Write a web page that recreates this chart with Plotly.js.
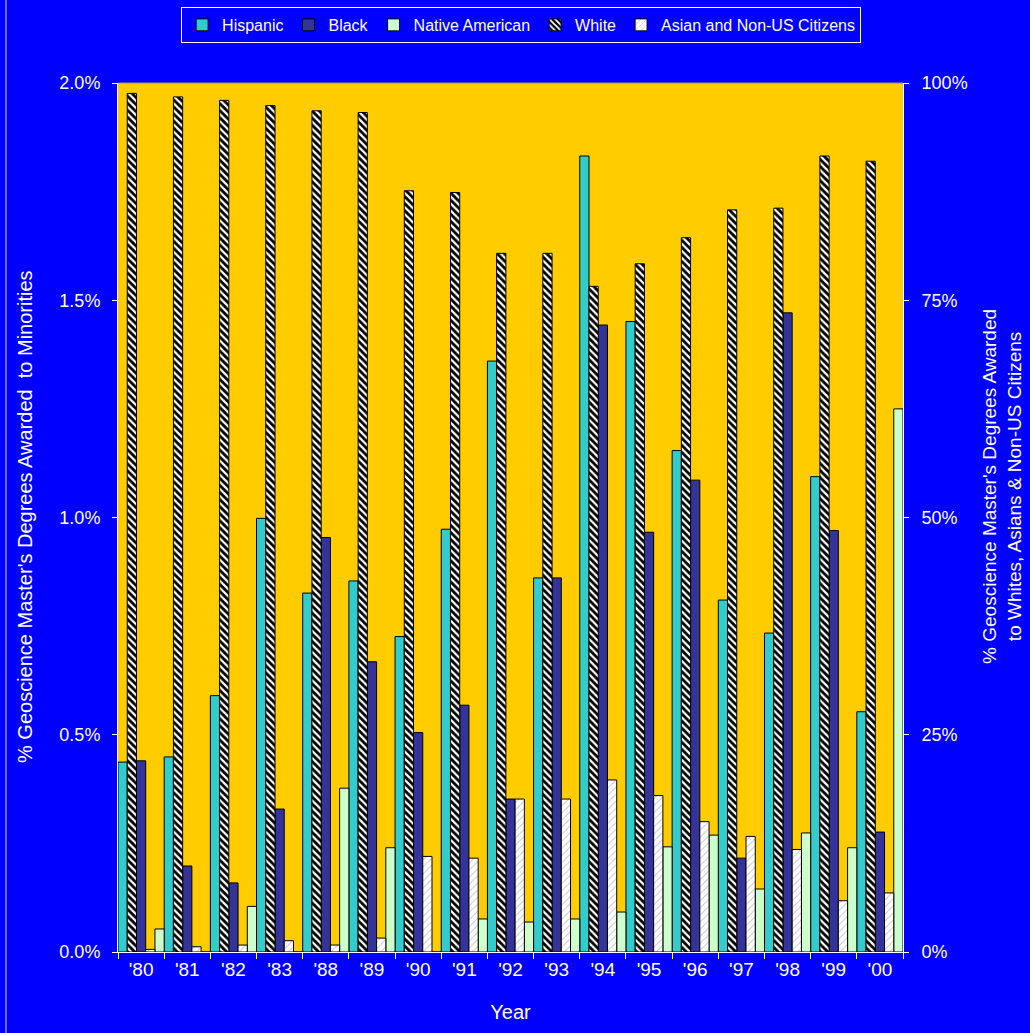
<!DOCTYPE html>
<html>
<head>
<meta charset="utf-8">
<script src="https://cdn.plot.ly/plotly-3.0.1.min.js"></script>
<style>
  html, body { margin: 0; padding: 0; background: #0000FF; }
  #chart { width: 1030px; height: 1033px; }
</style>
</head>
<body>
<div id="chart"></div>
<script>
// Category labels (years)
const years = ["'80", "'81", "'82", "'83", "'88", "'89", "'90", "'91", "'92", "'93", "'94", "'95", "'96", "'97", "'98", "'99", "'00"];

// Left axis (% of degrees awarded to minorities)
const hispanic = [0.437, 0.449, 0.59, 0.998, 0.826, 0.854, 0.726, 0.973, 1.36, 0.861, 1.832, 1.451, 1.154, 0.81, 0.734, 1.094, 0.553];
const black = [0.44, 0.198, 0.159, 0.329, 0.954, 0.668, 0.505, 0.568, 0.352, 0.861, 1.443, 0.966, 1.086, 0.216, 1.471, 0.970, 0.276];
const nativeAmerican = [0.053, 0, 0.105, 0, 0.377, 0.24, 0, 0.076, 0.069, 0.076, 0.092, 0.242, 0.269, 0.145, 0.274, 0.24, 1.25];

// Right axis (% of degrees awarded to Whites, Asians & Non-US Citizens)
const white = [98.8, 98.4, 98.0, 97.4, 96.8, 96.6, 87.6, 87.4, 80.4, 80.4, 76.6, 79.2, 82.2, 85.4, 85.6, 91.6, 91.0];
const asianNonUS = [0.3, 0.6, 0.8, 1.3, 0.8, 1.6, 11.0, 10.8, 17.6, 17.6, 19.8, 18.0, 15.0, 13.3, 11.8, 5.9, 6.8];

// Axis titles
const leftTitle = "% Geoscience Master's Degrees Awarded\u00A0\u00A0to Minorities";
const rightTitle = "% Geoscience Master's Degrees Awarded<br>to Whites, Asians & Non-US Citizens";

const outline = { color: '#000000', width: 1 };

const traces = [
  { type: 'bar', name: 'Hispanic', x: years, y: hispanic, yaxis: 'y',
    offsetgroup: '1', alignmentgroup: 'g', legendrank: 1,
    marker: { color: '#33CCCC', line: outline } },
  { type: 'bar', name: 'White', x: years, y: white, yaxis: 'y2',
    offsetgroup: '2', alignmentgroup: 'g', legendrank: 4,
    marker: { color: '#000000', line: outline,
      pattern: { shape: '\\', fgcolor: '#FFFFFF', bgcolor: '#000000', size: 5, solidity: 0.45 } } },
  { type: 'bar', name: 'Black', x: years, y: black, yaxis: 'y',
    offsetgroup: '3', alignmentgroup: 'g', legendrank: 2,
    marker: { color: '#333399', line: outline } },
  { type: 'bar', name: 'Asian and Non-US Citizens', x: years, y: asianNonUS, yaxis: 'y2',
    offsetgroup: '4', alignmentgroup: 'g', legendrank: 5,
    marker: { color: '#FFFFFF', line: outline,
      pattern: { shape: '/', fgcolor: '#C8C8C8', bgcolor: '#FFFFFF', size: 5, solidity: 0.2 } } },
  { type: 'bar', name: 'Native American', x: years, y: nativeAmerican, yaxis: 'y',
    offsetgroup: '5', alignmentgroup: 'g', legendrank: 3,
    marker: { color: '#CCFFCC', line: outline } }
];

const layout = {
  width: 1030, height: 1033,
  paper_bgcolor: '#0000FF',
  plot_bgcolor: '#FFCC00',
  margin: { l: 118, r: 127, t: 83, b: 81, autoexpand: false },
  font: { family: 'Liberation Sans, Arial, sans-serif', color: '#FFFFFF', size: 16 },
  barmode: 'group', bargap: 0, bargroupgap: 0,
  showlegend: true,
  legend: {
    orientation: 'h', x: 0.5135, xanchor: 'center', y: 1.0875, yanchor: 'top',
    bgcolor: '#0000FF', bordercolor: '#FFFFFF', borderwidth: 1,
    font: { size: 16, color: '#FFFFFF' }, traceorder: 'normal'
  },
  xaxis: {
    type: 'category', tickson: 'boundaries', ticks: 'outside', ticklen: 6,
    tickcolor: '#FFFFFF', showline: true, linecolor: '#FFFFFF', linewidth: 1,
    showgrid: false, tickfont: { size: 19 },
    title: { text: 'Year', font: { size: 20 }, standoff: 26 }
  },
  yaxis: {
    range: [0, 2], dtick: 0.5, tickformat: '.1f', ticksuffix: '%',
    ticks: 'outside', ticklen: 5, tickcolor: '#FFFFFF', ticklabelstandoff: 8,
    showline: true, linecolor: '#FFFFFF', linewidth: 1,
    showgrid: false, zeroline: false, tickfont: { size: 18 }
  },
  yaxis2: {
    overlaying: 'y', side: 'right', range: [0, 100], dtick: 25, ticksuffix: '%',
    ticks: 'outside', ticklen: 5, tickcolor: '#FFFFFF', ticklabelstandoff: 9,
    showline: true, linecolor: '#FFFFFF', linewidth: 1,
    showgrid: false, zeroline: false, tickfont: { size: 18 }
  },
  annotations: [
    { text: leftTitle, xref: 'paper', yref: 'paper', x: -0.1185, y: 0.5017,
      xanchor: 'center', yanchor: 'middle', textangle: -90, showarrow: false,
      font: { size: 20, color: '#FFFFFF' } },
    { text: rightTitle, xref: 'paper', yref: 'paper', x: 1.127, y: 0.536,
      xanchor: 'center', yanchor: 'middle', textangle: -90, showarrow: false,
      font: { size: 19, color: '#FFFFFF' } }
  ],
  shapes: [
    { type: 'line', xref: 'paper', yref: 'paper', x0: 0, x1: 1, y0: 1, y1: 1,
      line: { color: '#A89060', width: 1 } },
    { type: 'line', xref: 'paper', yref: 'paper', x0: -0.1427, x1: -0.1427, y0: -0.0932, y1: 1.0955,
      line: { color: '#D0D0FF', width: 1 } }
  ]
};

Plotly.newPlot('chart', traces, layout, { staticPlot: true, displayModeBar: false });
</script>
</body>
</html>
